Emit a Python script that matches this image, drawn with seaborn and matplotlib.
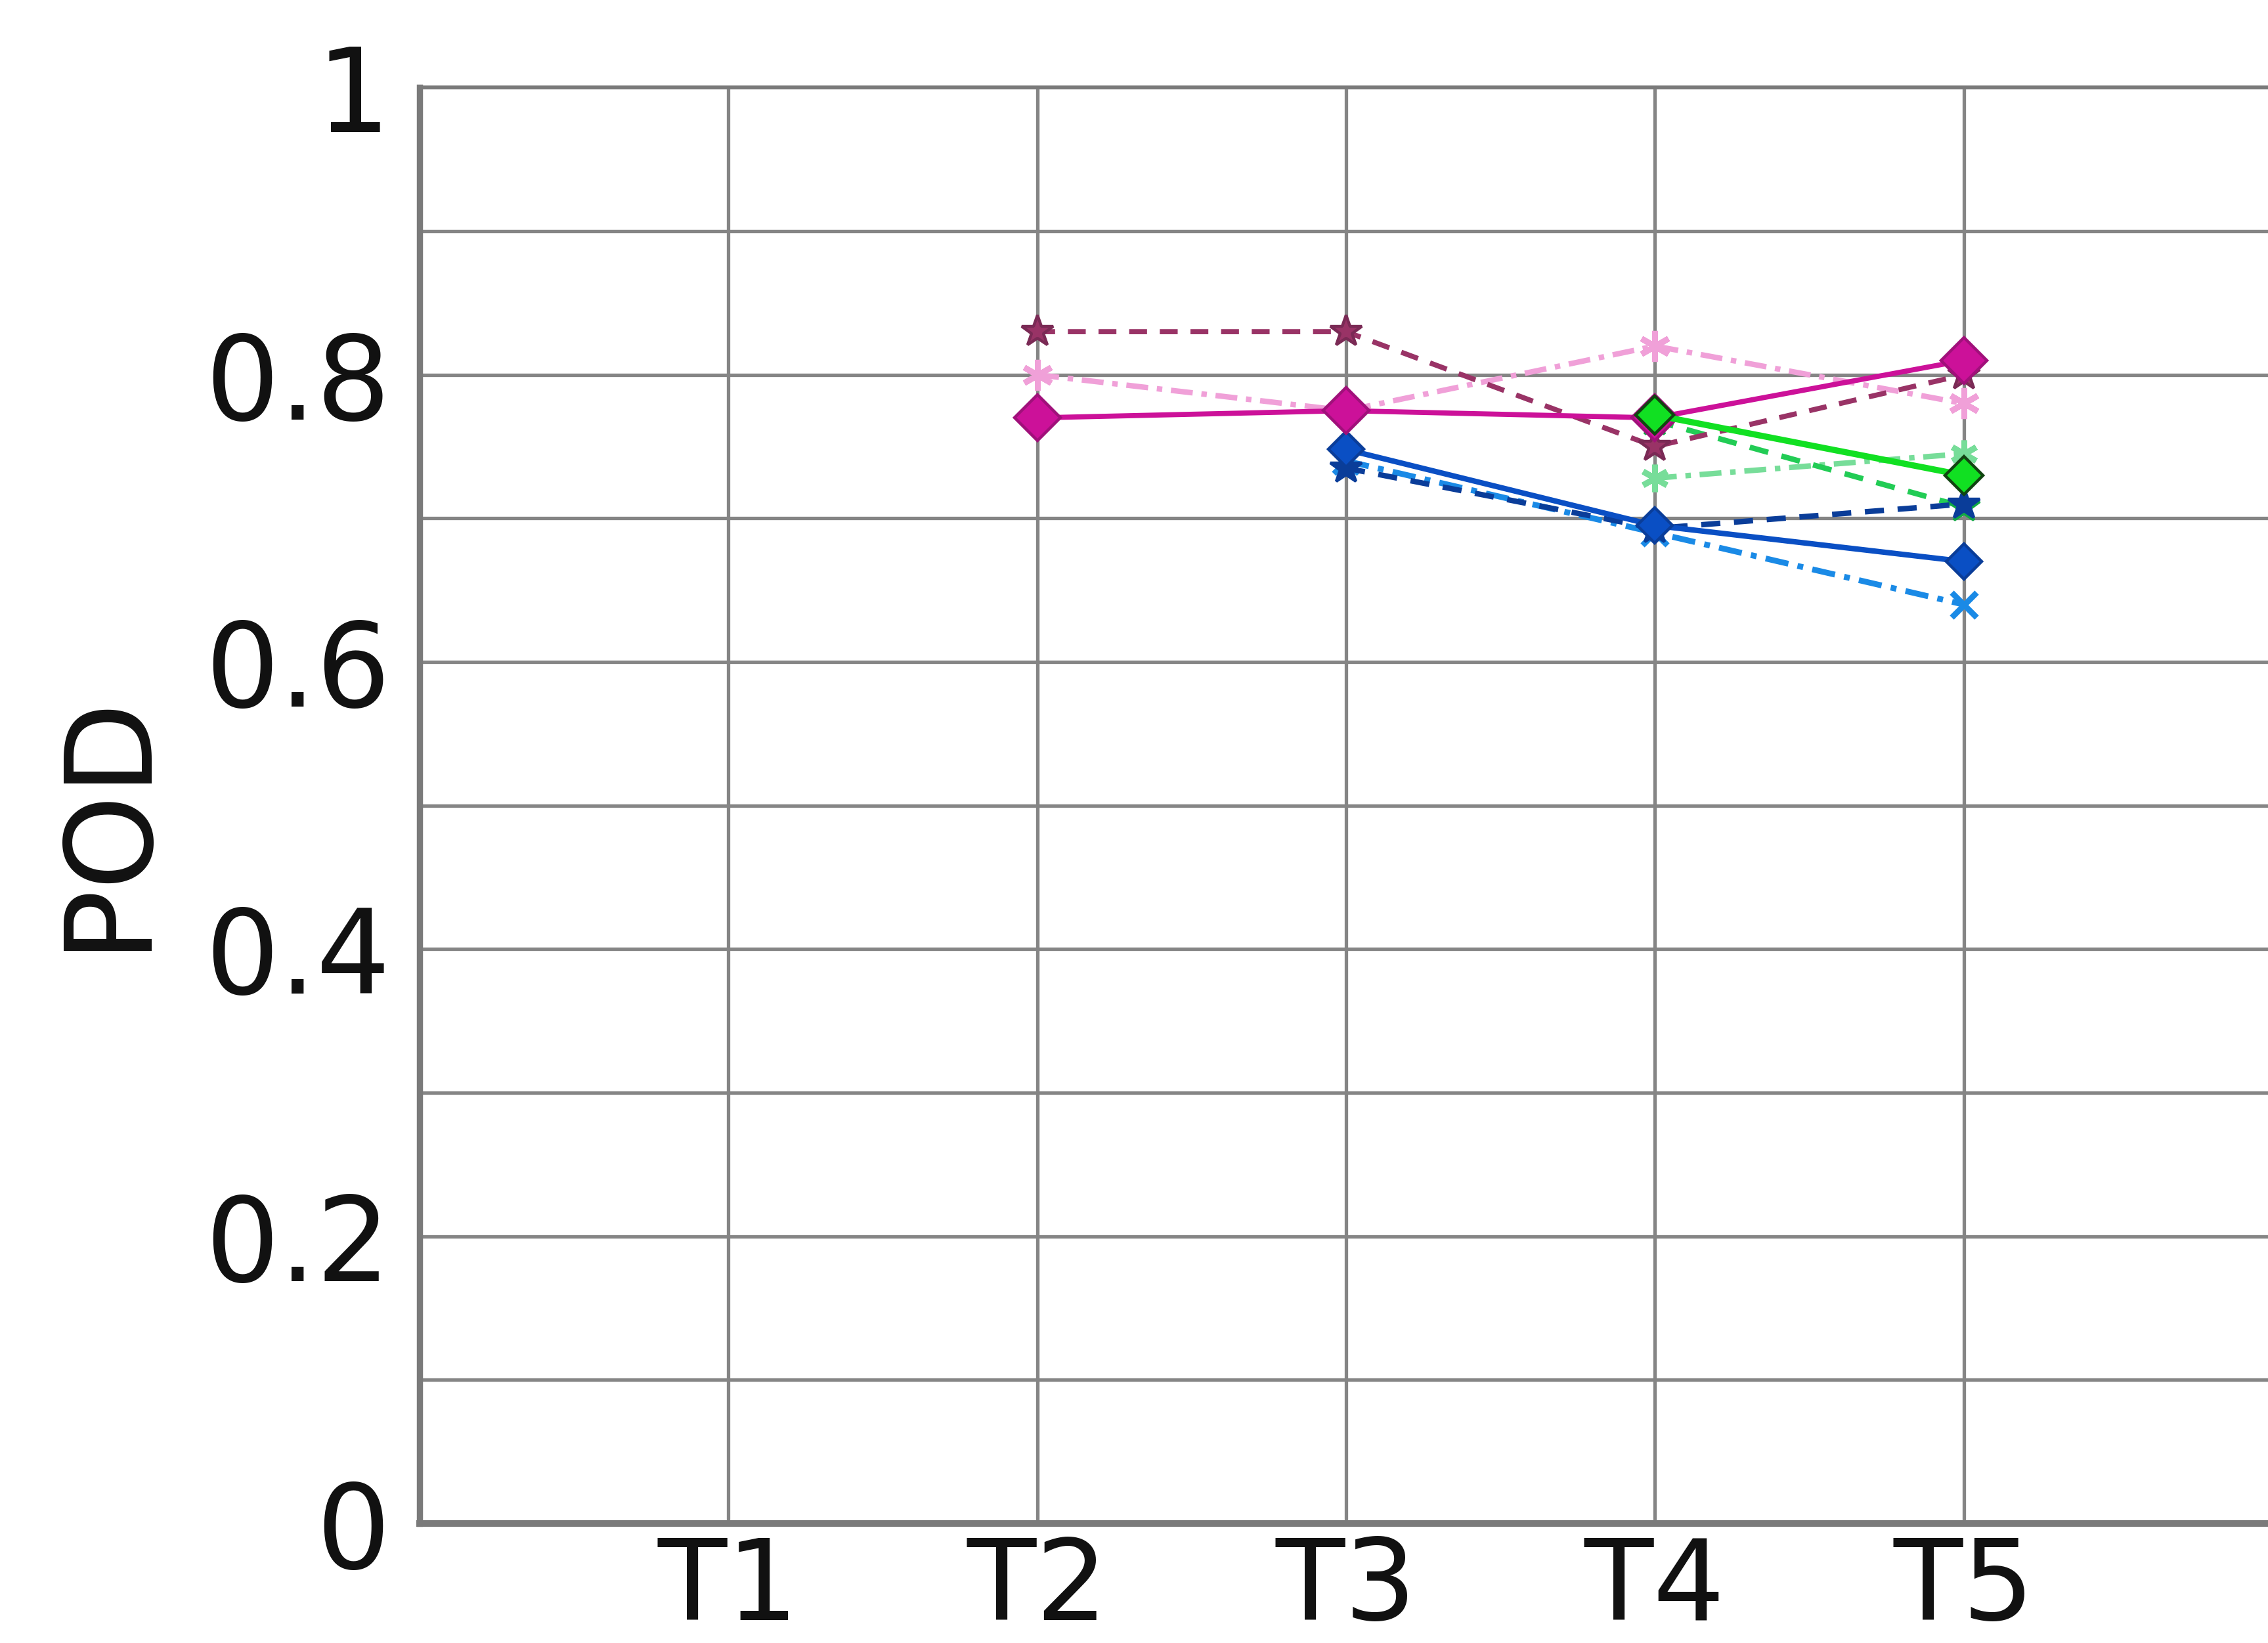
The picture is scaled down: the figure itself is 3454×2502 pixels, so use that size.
import numpy as np
import pandas as pd
import matplotlib
matplotlib.use("Agg")
import matplotlib.pyplot as plt
import seaborn as sns

# Lead times on the x axis
steps = ["T1", "T2", "T3", "T4", "T5"]
step_pos = [1, 2, 3, 4, 5]

# POD per configuration (NaN where no value exists)
pod_magenta_solid = [np.nan, 0.770, 0.775, 0.770, 0.810]
pod_purple_dashed = [np.nan, 0.830, 0.830, 0.750, 0.800]
pod_pink_dashdot = [np.nan, 0.800, 0.775, 0.820, 0.780]
pod_green_solid = [np.nan, np.nan, np.nan, 0.772, 0.730]
pod_green_dashed = [np.nan, np.nan, np.nan, 0.768, 0.708]
pod_lightgreen_dashdot = [np.nan, np.nan, np.nan, 0.728, 0.745]
pod_blue_solid = [np.nan, np.nan, 0.748, 0.695, 0.670]
pod_navy_dashed = [np.nan, np.nan, 0.735, 0.693, 0.710]
pod_skyblue_dashdot = [np.nan, np.nan, 0.740, 0.690, 0.640]

y_ticks = [0, 0.1, 0.2, 0.3, 0.4, 0.5, 0.6, 0.7, 0.8, 0.9, 1.0]
y_tick_labels = ["0", "", "0.2", "", "0.4", "", "0.6", "", "0.8", "", "1"]

sns.set_style("white")
plt.rcParams["font.family"] = ["DejaVu Sans"]

fig = plt.figure(figsize=(17.27, 12.51), dpi=200)
ax = fig.add_axes([0.185, 0.0727, 0.817, 0.874])

dashdot = (0, (4, 1.6, 1, 1.6))
dashed = (0, (3.5, 2.5))

series = [
    # values, color, linestyle, marker, markersize, marker edge, line width
    (pod_lightgreen_dashdot, "#77dd99", dashdot, (6, 2, 0), 15, "#77dd99", 3.0),
    (pod_green_dashed, "#22cc55", dashed, "*", 18, "#11aa44", 3.0),
    (pod_skyblue_dashdot, "#1a8ae6", dashdot, "x", 14, "#1a8ae6", 3.2),
    (pod_navy_dashed, "#0a3d99", dashed, "*", 18, "#0a3d99", 3.0),
    (pod_blue_solid, "#0a4fc4", "-", "D", 14, "#0a3d99", 3.0),
    (pod_pink_dashdot, "#f0a0d8", dashdot, (6, 2, 0), 17, "#f0a0d8", 3.0),
    (pod_purple_dashed, "#993366", dashed, "*", 18, "#7a2a55", 2.8),
    (pod_magenta_solid, "#cc1199", "-", "D", 18, "#a0107a", 2.8),
    (pod_green_solid, "#11e022", "-", "D", 15, "#114411", 3.4),
]

for vals, color, ls, mk, ms, mec, lw in series:
    df = pd.DataFrame({"step": step_pos, "pod": vals}).dropna()
    sns.lineplot(data=df, x="step", y="pod", ax=ax, color=color, linewidth=lw,
                 linestyle=ls, marker=mk, markersize=ms, markeredgecolor=mec,
                 markerfacecolor=color,
                 markeredgewidth=3.2 if mk in ("x", (6, 2, 0)) else 1.6,
                 legend=False, zorder=3)

ax.set_xlim(0, 6)
ax.set_ylim(0, 1)
ax.set_xticks(step_pos)
ax.set_xticklabels(steps)
ax.set_yticks(y_ticks)
ax.set_yticklabels(y_tick_labels)

ax.grid(True, color="#858585", linewidth=1.9, zorder=0)
ax.set_axisbelow(True)

for side, lw in (("left", 3.4), ("bottom", 3.6), ("top", 2.0), ("right", 2.0)):
    ax.spines[side].set_color("#7a7a7a")
    ax.spines[side].set_linewidth(lw)

ax.tick_params(axis="y", length=0, pad=16, labelsize=64, colors="#111111")
ax.tick_params(axis="x", length=0, pad=6, labelsize=62, colors="#111111")

ax.set_xlabel("")
ax.set_ylabel("POD", fontsize=66, color="#111111", labelpad=18)
ax.yaxis.set_label_coords(-0.137, 0.49)

fig.savefig("out.png", dpi=200, facecolor="white")
